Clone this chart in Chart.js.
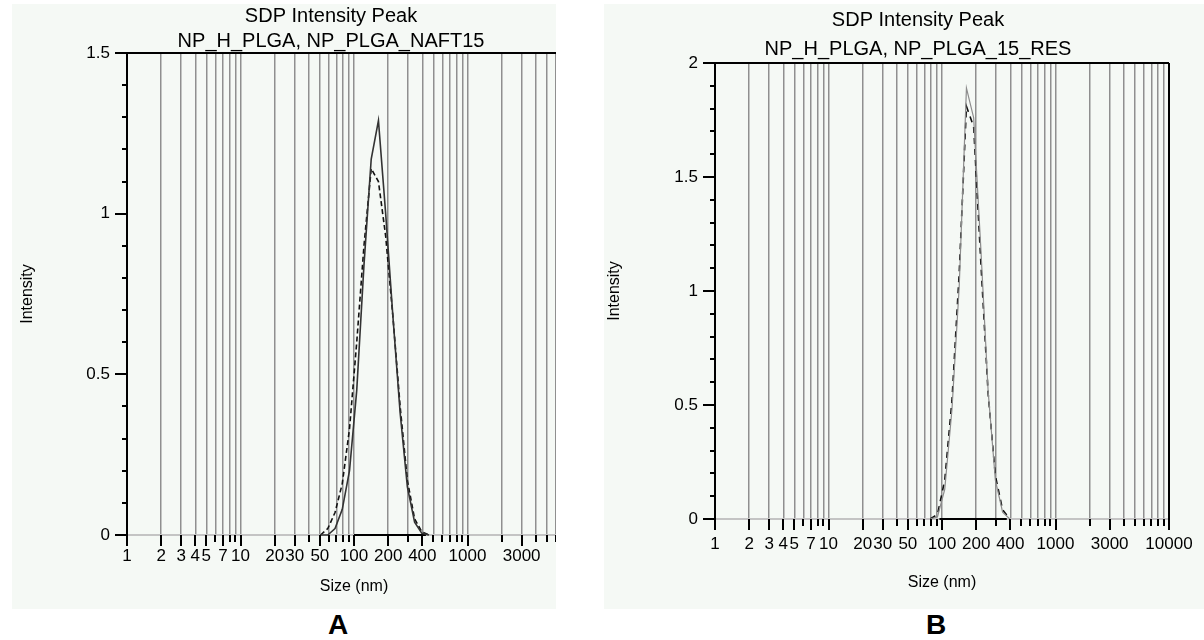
<!DOCTYPE html>
<html>
<head>
<meta charset="utf-8">
<script src="https://cdn.jsdelivr.net/npm/chart.js@4.4.1/dist/chart.umd.min.js"></script>
<style>
  body { margin: 0; background: #fff; width: 1204px; height: 640px; position: relative; overflow: hidden; }
  .panel { position: absolute; top: 4px; height: 605px; overflow: hidden; background: #f5f9f5; }
  #panelA { left: 12px; width: 544px; }
  #panelB { left: 604px; width: 600px; }
  .panel canvas { position: absolute; left: 0; top: 0; }
  .tag { position: absolute; top: 609px; transform: translateX(-50%); font: bold 28px "Liberation Sans", Arial, sans-serif; color: #000; }
</style>
</head>
<body>
<div class="panel" id="panelA"><canvas id="chartA" width="660" height="603"></canvas></div>
<div class="panel" id="panelB"><canvas id="chartB" width="640" height="603"></canvas></div>
<div class="tag" style="left:338px">A</div>
<div class="tag" style="left:936px">B</div>
<script>
// size bins (nm) and intensities
const binsA = [50.75, 58.77, 68.06, 78.82, 91.28, 105.7, 122.4, 141.8, 164.2, 190.1, 220.2, 255.0, 295.3, 342.0, 396.1, 458.7];
const solidA = [0, 0, 0.02, 0.08, 0.20, 0.45, 0.84, 1.17, 1.29, 1.00, 0.68, 0.38, 0.15, 0.04, 0.005, 0];
const dashedA = [0, 0.02, 0.07, 0.16, 0.33, 0.60, 0.90, 1.14, 1.10, 0.93, 0.68, 0.40, 0.17, 0.05, 0.01, 0];

const binsB = [78.82, 91.28, 105.7, 122.4, 141.8, 164.2, 190.1, 220.2, 255.0, 295.3, 342.0, 396.1];
const solidB = [0, 0.01, 0.13, 0.48, 1.02, 1.89, 1.76, 1.18, 0.56, 0.17, 0.03, 0];
const dashedB = [0, 0.02, 0.17, 0.52, 1.08, 1.81, 1.72, 1.12, 0.55, 0.19, 0.04, 0];

// black segment on the zero line
const baseA = [100, 430];
const baseB = [95, 372];
const baseY = [0, 0];

const sizeLabels = [1, 2, 3, 4, 5, 7, 10, 20, 30, 50, 100, 200, 400, 1000, 3000, 10000];
const decades = [1, 10, 100, 1000];
const gridSizes = decades.flatMap(d => [1, 2, 3, 4, 5, 6, 7, 8, 9].map(m => m * d)).concat([10000]);

const FONT = '"Liberation Sans", Arial, sans-serif';
Chart.defaults.font.family = FONT;
Chart.defaults.color = '#000';

const pts = (xs, ys) => xs.map((x, i) => ({x: x, y: ys[i]}));

// ticks, top border and right border
const frame = {
  id: 'frame',
  afterDraw(chart) {
    const {ctx, chartArea: a, scales: {x, y}} = chart;
    ctx.save();
    ctx.strokeStyle = '#000';
    ctx.lineWidth = 2;
    ctx.beginPath();
    gridSizes.forEach(v => {
      const px = Math.round(x.getPixelForValue(v));
      const len = sizeLabels.includes(v) ? 11 : 7;
      ctx.moveTo(px, a.bottom);
      ctx.lineTo(px, a.bottom + len);
    });
    const steps = Math.round(y.max * 10);
    for (let k = 0; k <= steps; k++) {
      const py = Math.round(y.getPixelForValue(k / 10));
      const len = k % 5 === 0 ? 12 : 5;
      ctx.moveTo(a.left - len, py);
      ctx.lineTo(a.left, py);
    }
    ctx.moveTo(a.left - 1, Math.round(a.top));
    ctx.lineTo(a.right, Math.round(a.top));
    ctx.moveTo(Math.round(a.right), a.top);
    ctx.lineTo(Math.round(a.right), a.bottom + 11);
    ctx.stroke();
    ctx.restore();
  }
};

function makeChart(id, o) {
  return new Chart(document.getElementById(id), {
    type: 'line',
    data: {
      datasets: [
        {data: pts(o.bins, o.solid), borderColor: o.solidColor, borderWidth: o.solidWidth, pointRadius: 0, clip: 4},
        {data: pts(o.bins, o.dashed), borderColor: '#111', borderWidth: 1.6, borderDash: o.dash, pointRadius: 0, clip: 4},
        {data: pts(o.base, baseY), borderColor: '#000', borderWidth: 2, pointRadius: 0, clip: 4}
      ]
    },
    options: {
      responsive: false,
      animation: false,
      events: [],
      layout: {padding: {left: 0, right: o.padRight, top: 0, bottom: o.padBottom}},
      plugins: {
        legend: {display: false},
        tooltip: {enabled: false},
        title: {display: true, text: 'SDP Intensity Peak', color: '#000',
          font: {size: 20, weight: 'normal'}, padding: {top: o.titleTop, bottom: 0}},
        subtitle: {display: true, text: o.subtitle, color: '#000',
          font: {size: 20, weight: 'normal'}, padding: {top: o.subTop, bottom: o.subBottom}}
      },
      scales: {
        x: {
          type: 'logarithmic', min: 1, max: 10000,
          afterBuildTicks: s => { s.ticks = gridSizes.map(v => ({value: v})); },
          afterFit: s => { s.height = o.xHeight; },
          ticks: {autoSkip: false, maxRotation: 0, minRotation: 0, padding: o.xPad,
            font: {size: 17}, color: '#000',
            callback: v => sizeLabels.includes(v) ? String(v) : ''},
          grid: {color: '#8f8f8f', lineWidth: 1.5, drawTicks: false},
          border: {display: false},
          title: {display: true, text: 'Size (nm)', font: {size: 16}, color: '#000', padding: {top: 0, bottom: 0}}
        },
        y: {
          min: 0, max: o.yMax,
          afterFit: s => { s.width = o.yWidth; },
          ticks: {stepSize: 0.5, padding: 17, font: {size: 17}, color: '#000',
            callback: v => String(v)},
          grid: {color: c => c.tick && c.tick.value === 0 ? '#c4c4c4' : 'rgba(0,0,0,0)', lineWidth: 2, drawTicks: false},
          border: {color: '#000', width: 2},
          title: {display: true, text: 'Intensity', font: {size: 16}, color: '#000', padding: {top: o.yTitlePad, bottom: 0}}
        },
        yR: {
          position: 'right', display: true,
          afterFit: s => { s.width = o.rightWidth; },
          ticks: {display: false}, grid: {display: false}, border: {display: false}
        }
      }
    },
    plugins: [frame]
  });
}

makeChart('chartA', {
  bins: binsA, solid: solidA, dashed: dashedA, base: baseA, yMax: 1.5,
  subtitle: 'NP_H_PLGA, NP_PLGA_NAFT15',
  solidColor: '#333', solidWidth: 1.6, dash: [5, 3],
  padRight: 22, padBottom: 11, rightWidth: 69, yWidth: 115, yTitlePad: 6,
  titleTop: 0, subTop: 1, subBottom: 0, xHeight: 61, xPad: 11
});

makeChart('chartB', {
  bins: binsB, solid: solidB, dashed: dashedB, base: baseB, yMax: 2,
  subtitle: 'NP_H_PLGA, NP_PLGA_15_RES',
  solidColor: '#8c8c8c', solidWidth: 1.2, dash: [6, 5],
  padRight: 12, padBottom: 15, rightWidth: 63, yWidth: 111, yTitlePad: 1,
  titleTop: 4, subTop: 5, subBottom: 2, xHeight: 73, xPad: 15
});
</script>
</body>
</html>
